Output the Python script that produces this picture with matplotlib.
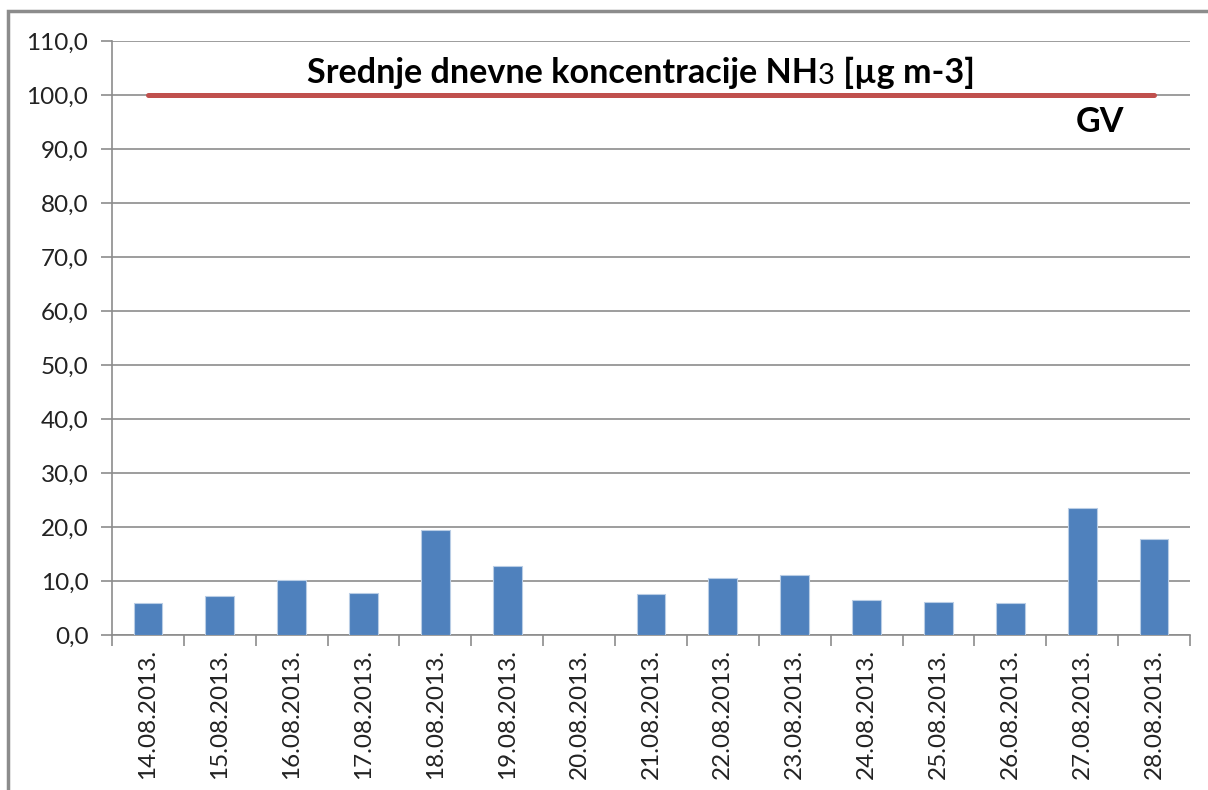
import numpy as np
import matplotlib.pyplot as plt
from matplotlib.patches import Rectangle

# daily mean NH3 concentrations
dates = ['14.08.2013.', '15.08.2013.', '16.08.2013.', '17.08.2013.', '18.08.2013.',
         '19.08.2013.', '20.08.2013.', '21.08.2013.', '22.08.2013.', '23.08.2013.',
         '24.08.2013.', '25.08.2013.', '26.08.2013.', '27.08.2013.', '28.08.2013.']
nh3 = [6.0, 7.2, 10.1, 7.8, 19.5, 12.8, np.nan, 7.6, 10.5, 11.2, 6.5, 6.2, 6.0, 23.5, 17.8]
gv = [100.0] * len(dates)
yticks = np.arange(0, 111, 10)

plt.rcParams['font.family'] = ['Lato', 'DejaVu Sans']

fig = plt.figure(figsize=(12.08, 7.9), dpi=100)
ax = fig.add_axes([112 / 1208, 1 - 635 / 790, (1190 - 112) / 1208, (635 - 41) / 790])

# outer chart frame (right and bottom edges fall outside the picture)
fig.patches.append(Rectangle((8 / 1208, -0.05), 1.1, 1.05 - 11 / 790,
                             transform=fig.transFigure, fill=False,
                             edgecolor='#8c8c8c', linewidth=2.5))

x = np.arange(len(dates))
ax.bar(x, nh3, width=0.4, color='#4F81BD', edgecolor='#B9CDE5', linewidth=0.8, zorder=3)
ax.plot(x, gv, color='#C0504D', linewidth=3.6, solid_capstyle='round', zorder=4)

ax.set_xlim(-0.5, len(dates) - 0.5)
ax.set_ylim(0, 110)
ax.set_yticks(yticks)
ax.set_yticklabels([f'{v:.1f}'.replace('.', ',') for v in yticks], fontsize=17.5, color='#222222')
ax.yaxis.grid(True, color='#8c8c8c', linewidth=1.2, zorder=0)

ax.set_xticks(x)
ax.set_xticklabels(dates, rotation=90, fontsize=17.5, color='#222222')
ax.tick_params(axis='x', length=0, pad=10)
ax.set_xticks(np.arange(-0.5, len(dates)), minor=True)
ax.tick_params(axis='x', which='minor', length=8, width=1.2, color='#8c8c8c')
ax.tick_params(axis='y', length=8, width=1.2, color='#8c8c8c', pad=9)

for side in ['top', 'right']:
    ax.spines[side].set_visible(False)
for side in ['left', 'bottom']:
    ax.spines[side].set_color('#8c8c8c')
    ax.spines[side].set_linewidth(1.2)

# title, with the "3" of NH3 in regular weight
t1 = ax.text(307 / 1208, 1 - 73 / 790, 'Srednje dnevne koncentracije NH', transform=fig.transFigure,
             fontsize=24.6, fontweight='bold', ha='left', va='center')
t2 = ax.annotate('3', xy=(1, 0), xycoords=t1, fontsize=21, ha='left', va='bottom')
ax.annotate(' [µg m-3]', xy=(1, 0), xycoords=t2, fontsize=24.6, fontweight='bold',
            ha='left', va='bottom')

ax.text(1100 / 1208, 1 - 122 / 790, 'GV', transform=fig.transFigure,
        fontsize=24.6, fontweight='bold', ha='center', va='center')

fig.savefig('out.png', dpi=100)
